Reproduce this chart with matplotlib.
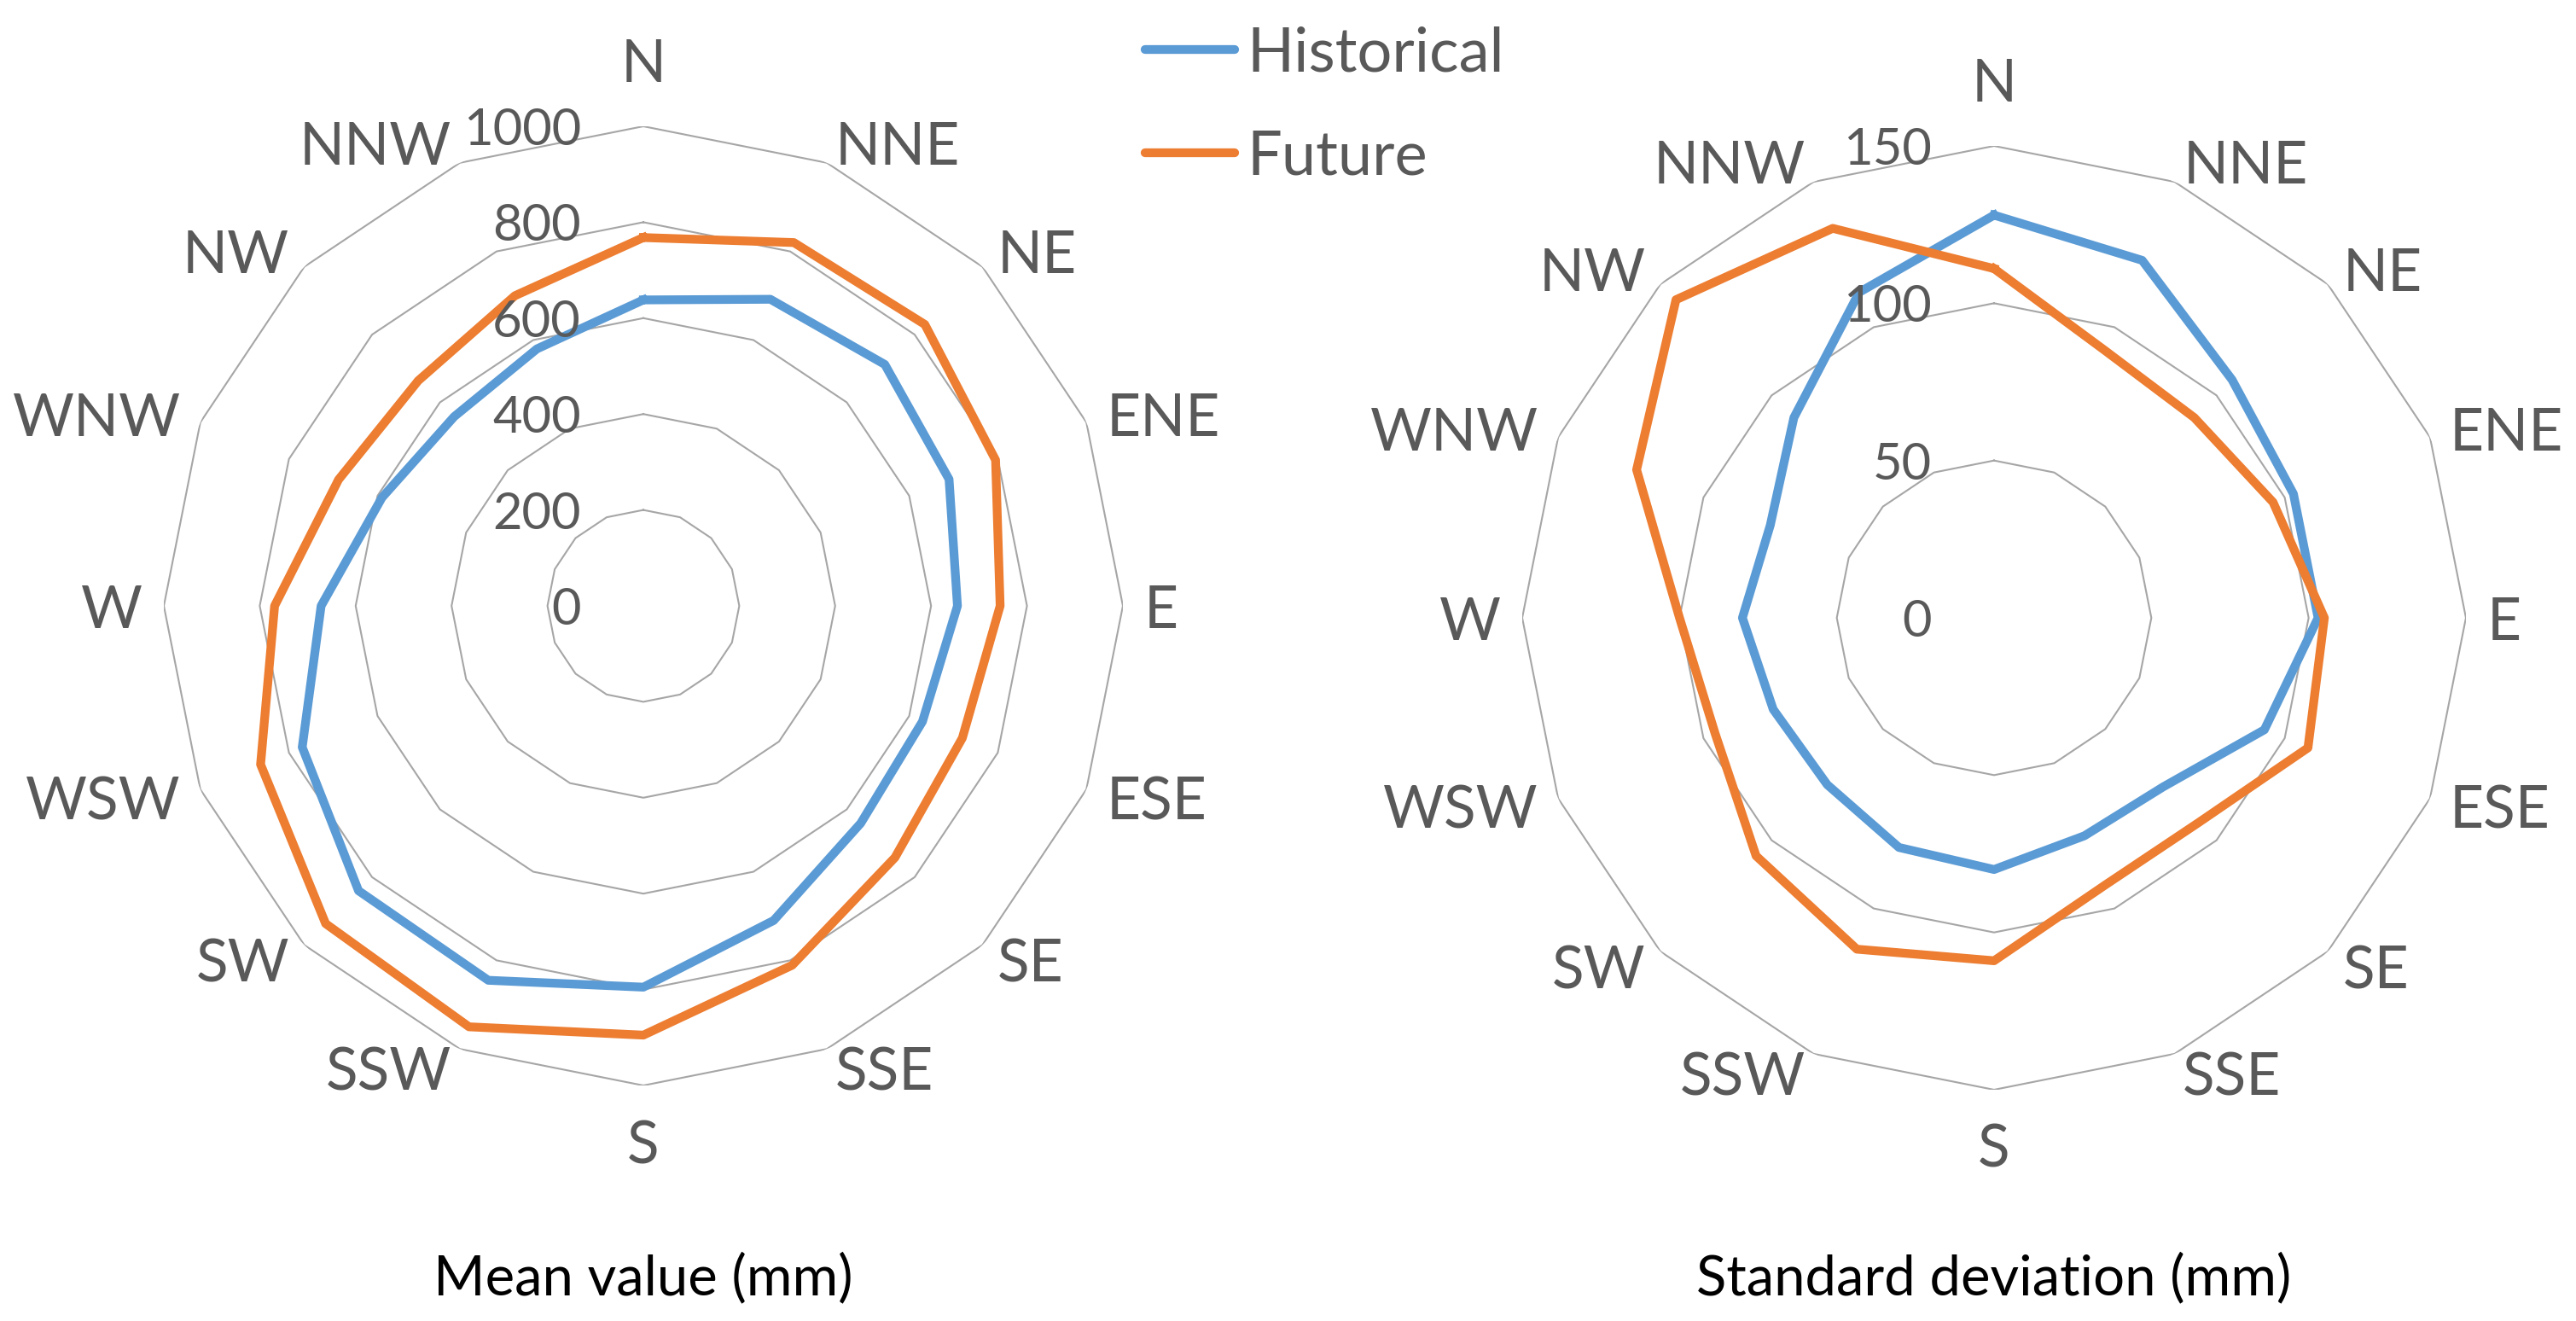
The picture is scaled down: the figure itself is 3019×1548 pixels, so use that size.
import numpy as np
import matplotlib.pyplot as plt
from matplotlib.lines import Line2D

plt.rcParams['font.family'] = ['Lato', 'DejaVu Sans']

directions = ['N', 'NNE', 'NE', 'ENE', 'E', 'ESE', 'SE', 'SSE',
              'S', 'SSW', 'SW', 'WSW', 'W', 'WNW', 'NW', 'NNW']

# mean value (mm)
mean_hist = [638, 692, 712, 690, 655, 630, 641, 710, 795, 845, 840, 770, 672, 590, 558, 580]
mean_future = [768, 820, 830, 795, 744, 720, 742, 811, 895, 950, 937, 864, 769, 688, 664, 700]
mean_ticks = [0, 200, 400, 600, 800, 1000]

# standard deviation (mm)
std_hist = [128, 123, 107, 103, 103, 93, 76, 75, 80, 79, 75, 76, 80, 77, 90, 112]
std_future = [111, 92, 90, 96, 105, 108, 92, 92, 109, 114, 107, 96, 100, 123, 143, 134]
std_ticks = [0, 50, 100, 150]

series_names = ['Historical', 'Future']
titles = ['Mean value (mm)', 'Standard deviation (mm)']

BLUE = '#5B9BD5'
ORANGE = '#ED7D31'
GRID = '#A6A6A6'
TXT = '#595959'

W, H = 3019, 1548
fig = plt.figure(figsize=(W / 100, H / 100), dpi=100)


def radar(cx, cy, R, hist, fut, ticks, title):
    rect = [(cx - R) / W, (H - cy - R) / H, 2 * R / W, 2 * R / H]
    ax = fig.add_axes(rect, projection='polar')
    ax.set_theta_zero_location('N')
    ax.set_theta_direction(-1)
    theta = np.linspace(0, 2 * np.pi, len(directions), endpoint=False)
    loop = np.append(theta, theta[0])

    for lv in ticks[1:]:
        ax.plot(loop, [lv] * len(loop), color=GRID, lw=1.5, zorder=1)
    for vals, col in ((hist, BLUE), (fut, ORANGE)):
        ax.plot(loop, list(vals) + [vals[0]], color=col, lw=7.4,
                solid_joinstyle='round', zorder=3)

    ax.set_ylim(0, ticks[-1])
    ax.set_xticks([])
    ax.set_yticks([])
    ax.grid(False)
    ax.spines['polar'].set_visible(False)
    ax.patch.set_visible(False)

    # value labels left of the north axis
    for v in ticks:
        ax.annotate(str(v), xy=(0, v), xytext=(-73, 0), textcoords='offset pixels',
                    ha='right', va='center_baseline', fontsize=43, color=TXT,
                    annotation_clip=False, zorder=4)

    # direction labels
    for ang, lab in zip(theta, directions):
        s, c = np.sin(ang), np.cos(ang)
        if abs(s) < 0.01:
            ha, va, off = 'center', ('bottom' if c > 0 else 'top'), 40
        else:
            ha, va, off = ('left' if s > 0 else 'right'), 'center_baseline', 25
        ax.annotate(lab, xy=(ang, ticks[-1]), xytext=(off * s, off * c),
                    textcoords='offset pixels', ha=ha, va=va, fontsize=50,
                    color=TXT, annotation_clip=False)

    fig.text(cx / W, 1 - 1492 / H, title, ha='center', va='center_baseline',
             fontsize=47, color='black')
    return ax


radar(754, 710, 562, mean_hist, mean_future, mean_ticks, titles[0])
radar(2337, 724, 553, std_hist, std_future, std_ticks, titles[1])

handles = [Line2D([], [], color=BLUE, lw=7.4, solid_capstyle='round'),
           Line2D([], [], color=ORANGE, lw=7.4, solid_capstyle='round')]
fig.legend(handles, series_names, loc='upper left', bbox_to_anchor=(1342 / W, 1 - 30 / H),
           frameon=False, fontsize=52, handlelength=1.45, handletextpad=0.2,
           labelspacing=0.78, borderpad=0, borderaxespad=0, labelcolor=TXT)

fig.savefig('out.png', dpi=100, facecolor='white')
